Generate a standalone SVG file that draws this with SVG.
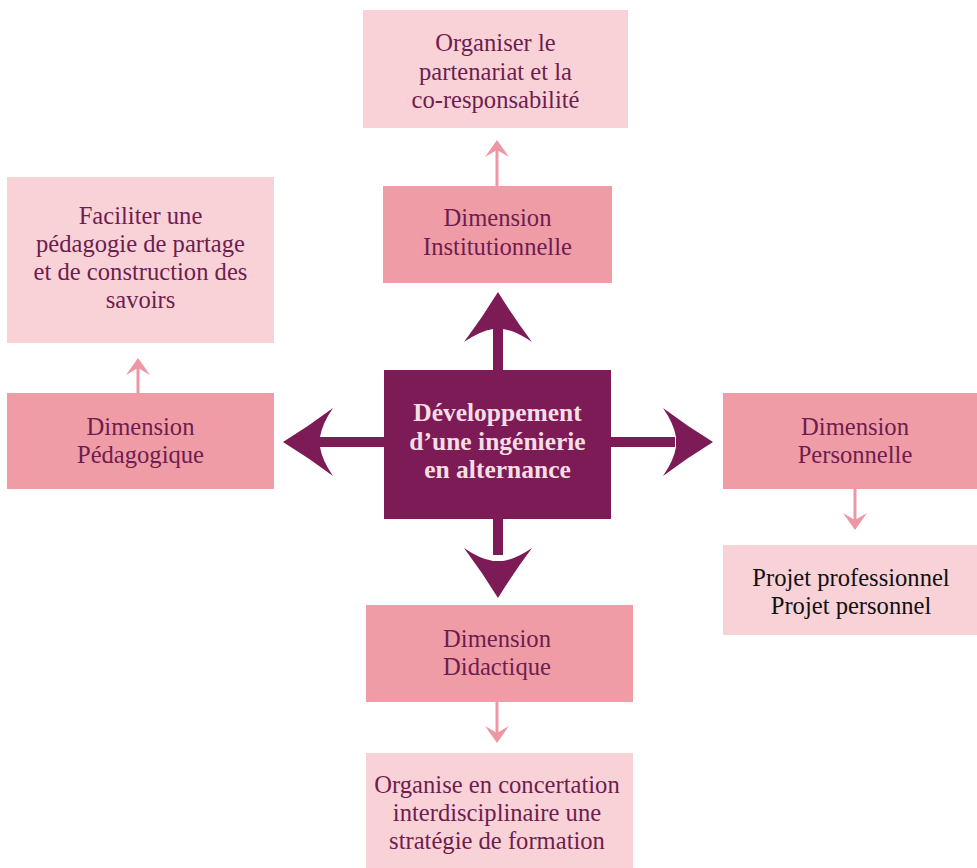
<svg xmlns="http://www.w3.org/2000/svg" xmlns:xlink="http://www.w3.org/1999/xlink" width="977" height="868" viewBox="0 0 977 868">
  <style>
    .goal { fill: #f9d2d8; }
    .dim { fill: #f09ca6; }
    .core { fill: #7c1b56; }
    text { font-family: "Liberation Serif", Tinos, "Times New Roman", "DejaVu Serif", serif; font-size: 24.6px; text-anchor: middle; }
    .t { fill: #6e1d4f; }
    .tb { fill: #111111; }
    .tc { fill: #f6dde3; font-weight: bold; font-size: 25.5px; }
    .link { stroke: #ee97a4; stroke-width: 3; fill: none; }
    .linkhead { fill: #ee97a4; }
    .big { fill: #7c1b56; }
  </style>
  <defs>
    <!-- bold curved arrowhead, tip at origin, pointing up -->
    <path id="bighead" d="M0,0 Q-16,26 -34,50 Q-18,39 -5,37 L5,37 Q18,39 34,50 Q16,26 0,0 Z"/>
    <!-- small chevron arrowhead, tip at origin, pointing up -->
    <path id="smallhead" d="M0,0 L12,17 L0,10 L-12,17 Z"/>
  </defs>

  <!-- connectors -->
  <g id="connectors">
    <!-- thick arrows from the centre -->
    <g class="big">
      <rect x="493" y="325" width="10" height="50"/>
      <use xlink:href="#bighead" transform="translate(498,292)"/>
      <rect x="493" y="515" width="10" height="40"/>
      <use xlink:href="#bighead" transform="translate(498,598) rotate(180)"/>
      <rect x="320" y="437" width="68" height="10"/>
      <use xlink:href="#bighead" transform="translate(283,442) rotate(-90)"/>
      <rect x="607" y="437" width="68" height="10"/>
      <use xlink:href="#bighead" transform="translate(713,442) rotate(90)"/>
    </g>
    <!-- thin arrows dimension -> goal -->
    <line class="link" x1="497" y1="186" x2="497" y2="148"/>
    <use class="linkhead" xlink:href="#smallhead" transform="translate(497,140)"/>
    <line class="link" x1="138" y1="393" x2="138" y2="366"/>
    <use class="linkhead" xlink:href="#smallhead" transform="translate(138,358)"/>
    <line class="link" x1="855" y1="489" x2="855" y2="522"/>
    <use class="linkhead" xlink:href="#smallhead" transform="translate(855,530) rotate(180)"/>
    <line class="link" x1="497" y1="702" x2="497" y2="735"/>
    <use class="linkhead" xlink:href="#smallhead" transform="translate(497,743) rotate(180)"/>
  </g>

  <!-- centre -->
  <g id="core">
    <rect class="core" x="384" y="370" width="227" height="149"/>
    <text class="tc" x="497.5" y="421">Développement</text>
    <text class="tc" x="497.5" y="449.5">d’une ingénierie</text>
    <text class="tc" x="497.5" y="478">en alternance</text>
  </g>

  <!-- institutional -->
  <g id="dim-institutionnelle">
    <rect class="dim" x="383" y="186" width="229" height="97"/>
    <text class="t" x="497.5" y="226">Dimension</text>
    <text class="t" x="497.5" y="255">Institutionnelle</text>
  </g>
  <g id="goal-institutionnelle">
    <rect class="goal" x="363" y="10" width="265" height="118"/>
    <text class="t" x="495.5" y="51">Organiser le</text>
    <text class="t" x="495.5" y="79.5">partenariat et la</text>
    <text class="t" x="495.5" y="108">co-responsabilité</text>
  </g>

  <!-- pedagogical -->
  <g id="dim-pedagogique">
    <rect class="dim" x="7" y="393" width="267" height="96"/>
    <text class="t" x="140.5" y="435">Dimension</text>
    <text class="t" x="140.5" y="463">Pédagogique</text>
  </g>
  <g id="goal-pedagogique">
    <rect class="goal" x="7" y="177" width="267" height="166"/>
    <text class="t" x="140.5" y="224">Faciliter une</text>
    <text class="t" x="140.5" y="252">pédagogie de partage</text>
    <text class="t" x="140.5" y="280">et de construction des</text>
    <text class="t" x="140.5" y="308">savoirs</text>
  </g>

  <!-- personal -->
  <g id="dim-personnelle">
    <rect class="dim" x="723" y="393" width="254" height="96"/>
    <text class="t" x="855" y="435">Dimension</text>
    <text class="t" x="855" y="463">Personnelle</text>
  </g>
  <g id="goal-personnelle">
    <rect class="goal" x="723" y="545" width="254" height="90"/>
    <text class="tb" x="851" y="586">Projet professionnel</text>
    <text class="tb" x="851" y="614">Projet personnel</text>
  </g>

  <!-- didactic -->
  <g id="dim-didactique">
    <rect class="dim" x="366" y="605" width="267" height="97"/>
    <text class="t" x="497" y="647">Dimension</text>
    <text class="t" x="497" y="675">Didactique</text>
  </g>
  <g id="goal-didactique">
    <rect class="goal" x="366" y="753" width="267" height="115"/>
    <text class="t" x="497" y="793">Organise en concertation</text>
    <text class="t" x="497" y="821">interdisciplinaire une</text>
    <text class="t" x="497" y="849">stratégie de formation</text>
  </g>
</svg>
